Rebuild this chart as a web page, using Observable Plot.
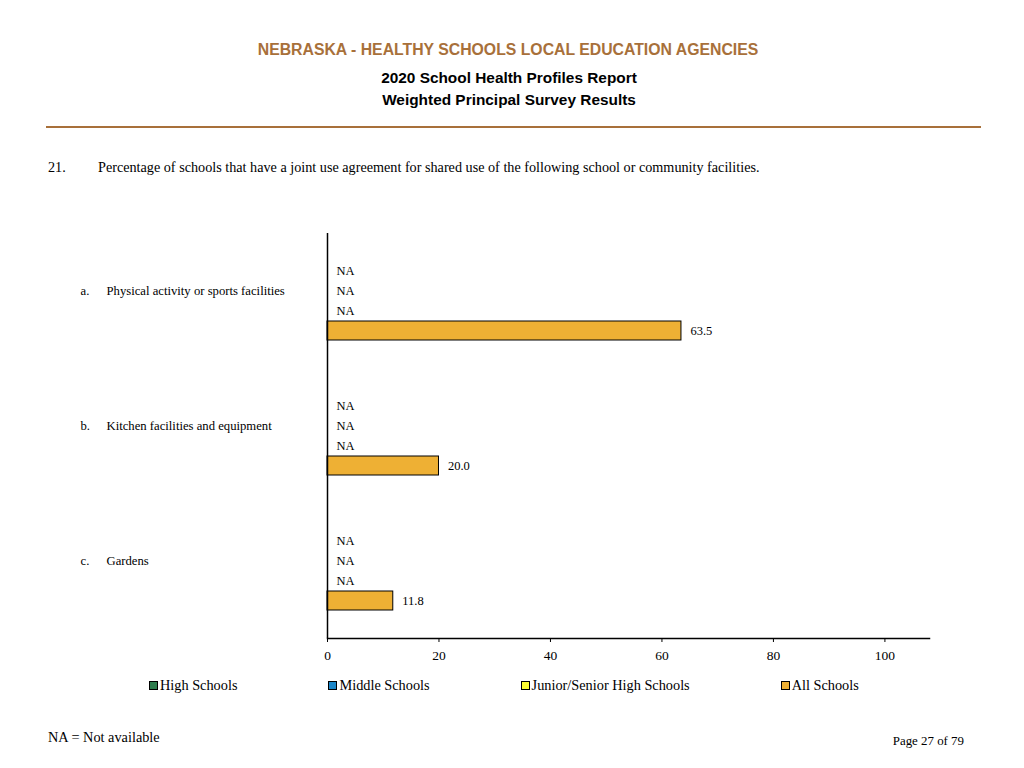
<!DOCTYPE html>
<html>
<head>
<meta charset="utf-8">
<script src="https://cdn.jsdelivr.net/npm/d3@7"></script>
<script src="https://cdn.jsdelivr.net/npm/@observablehq/plot@0.6"></script>
<style>
  html, body { margin: 0; padding: 0; background: #fff; }
  body { width: 1024px; height: 768px; position: relative; overflow: hidden; font-family: "Liberation Serif", serif; color: #000; }
  .abs { position: absolute; white-space: nowrap; }
  #title { top: 41px; left: 0; width: 1016px; text-align: center; font-family: "Liberation Sans", Arial, sans-serif; font-weight: bold; font-size: 15.8px; color: #A8703A; }
  #sub1, #sub2 { left: 0; width: 1018px; text-align: center; font-family: "Liberation Sans", Arial, sans-serif; font-weight: bold; font-size: 15.4px; }
  #sub1 { top: 69px; }
  #sub2 { top: 91px; }
  #hr { top: 126px; left: 46px; width: 935px; height: 2px; background: #A8703A; }
  #qnum { top: 159px; left: 48px; font-size: 14.2px; }
  #qtext { top: 159px; left: 98px; font-size: 14.2px; }
  #chart { top: 200px; left: 0; }
  #legend { top: 677px; left: 149px; display: flex; font-size: 14.3px; }
  .item { display: flex; align-items: center; margin-right: 91px; }
  .sw { width: 7px; height: 7px; border: 1px solid #000; margin-right: 2px; }
  #foot1 { top: 729px; left: 48px; font-size: 14.3px; }
  #foot2 { top: 734px; right: 60px; font-size: 12.9px; }
</style>
</head>
<body>
<div id="title" class="abs">NEBRASKA - HEALTHY SCHOOLS LOCAL EDUCATION AGENCIES</div>
<div id="sub1" class="abs">2020 School Health Profiles Report</div>
<div id="sub2" class="abs">Weighted Principal Survey Results</div>
<div id="hr" class="abs"></div>
<div id="qnum" class="abs">21.</div>
<div id="qtext" class="abs">Percentage of schools that have a joint use agreement for shared use of the following school or community facilities.</div>
<div id="chart" class="abs"></div>
<div id="legend" class="abs"></div>
<div id="foot1" class="abs">NA = Not available</div>
<div id="foot2" class="abs">Page 27 of 79</div>
<script>
const categories = ["a.", "b.", "c."];
const categoryLabels = ["Physical activity or sports facilities", "Kitchen facilities and equipment", "Gardens"];
const schoolTypes = ["High Schools", "Middle Schools", "Junior/Senior High Schools", "All Schools"];
const schoolColors = ["#2E7D4E", "#1B86C8", "#FFFF33", "#EEB034"];
const highSchools = [null, null, null];
const middleSchools = [null, null, null];
const juniorSeniorHighSchools = [null, null, null];
const allSchools = [63.5, 20.0, 11.8];
const xTicks = [0, 20, 40, 60, 80, 100];

const series = [highSchools, middleSchools, juniorSeniorHighSchools, allSchools];
const rows = categories.flatMap((cat, i) =>
  schoolTypes.map((school, j) => ({cat, school, value: series[j][i]}))
);
const labels = categories.map((cat, i) => ({cat, letter: cat, label: categoryLabels[i]}));

const chart = Plot.plot({
  width: 1024,
  height: 478,
  marginLeft: 327,
  marginRight: 95,
  marginTop: 33,
  marginBottom: 40,
  x: {domain: [0, 108], label: null},
  fy: {domain: categories, padding: 0, axis: null, label: null},
  y: {domain: schoolTypes, paddingInner: 0.05, paddingOuter: 1.4, axis: null, label: null},
  color: {domain: schoolTypes, range: schoolColors},
  style: {fontFamily: "Liberation Serif", fontSize: "12px", color: "#000", background: "transparent"},
  marks: [
    Plot.barX(rows.filter(d => d.value != null), {x: "value", y: "school", fy: "cat", fill: "school", stroke: "#000", strokeWidth: 1}),
    Plot.text(rows, {x: d => d.value ?? 0, y: "school", fy: "cat", text: d => d.value == null ? "NA" : d.value.toFixed(1), textAnchor: "start", dx: 9, fill: "#000", fontSize: 12.5}),
    Plot.text(labels, {x: 0, y: () => "Middle Schools", fy: "cat", text: "letter", textAnchor: "start", dx: -247, fill: "#000", fontSize: 12.7}),
    Plot.text(labels, {x: 0, y: () => "Middle Schools", fy: "cat", text: "label", textAnchor: "start", dx: -221, fill: "#000", fontSize: 12.7}),
    Plot.ruleX([0], {stroke: "#000", strokeWidth: 1.5}),
    Plot.frame({anchor: "bottom", facetAnchor: "bottom", stroke: "#000", strokeWidth: 1.5}),
    Plot.axisX({ticks: xTicks, tickSize: 4, tickPadding: 8, fontSize: 13.5, label: null, stroke: "#000"})
  ]
});
document.getElementById("chart").appendChild(chart);

const legend = document.getElementById("legend");
schoolTypes.forEach((name, i) => {
  const item = document.createElement("div");
  item.className = "item";
  const sw = document.createElement("div");
  sw.className = "sw";
  sw.style.background = schoolColors[i];
  const t = document.createElement("span");
  t.textContent = name;
  item.appendChild(sw);
  item.appendChild(t);
  legend.appendChild(item);
});
</script>
</body>
</html>
